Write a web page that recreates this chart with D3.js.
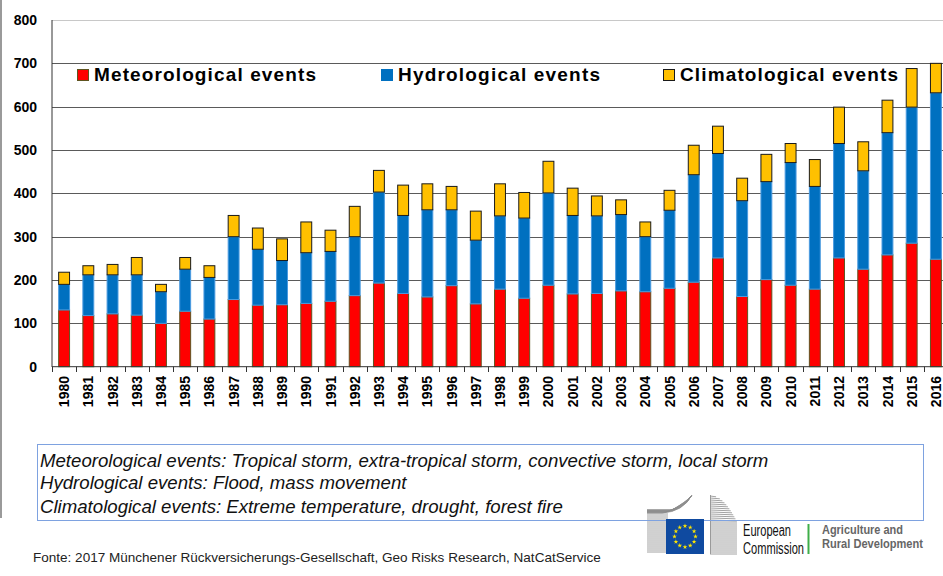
<!DOCTYPE html>
<html>
<head>
<meta charset="utf-8">
<script src="https://cdn.jsdelivr.net/npm/d3@7"></script>
<style>
  body { margin: 0; background: #fff; }
  svg { display: block; font-family: "Liberation Sans", Arial, sans-serif; }
</style>
</head>
<body>
<div id="chart"></div>
<script>
const years = d3.range(1980, 2017).map(String);
const series_names = ["Meteorological events", "Hydrological events", "Climatological events"];
const meteorological = [131,118,122,119,100,128,110,155,142,143,146,151,164,193,169,161,187,145,179,158,188,168,169,175,173,181,195,251,162,201,188,179,251,225,258,285,248];
const hydrological = [59,94,90,93,73,97,96,145,129,102,117,115,136,210,180,201,175,147,169,185,213,181,179,176,127,180,248,241,221,226,283,237,264,227,282,314,384];
const climatological = [28,21,24,40,17,27,27,49,49,50,71,49,70,50,70,60,54,67,74,59,73,63,46,34,34,46,68,63,52,63,44,62,84,67,75,89,68];
const y_ticks = [0,100,200,300,400,500,600,700,800];
const notes = [
    "Meteorological events: Tropical storm, extra-tropical storm, convective storm, local storm",
    "Hydrological events: Flood, mass movement",
    "Climatological events: Extreme temperature, drought, forest fire"
];
const source_text = "Fonte: 2017 Münchener Rückversicherungs-Gesellschaft, Geo Risks Research, NatCatService";

function draw_chart() {
    const width = 943, height = 576;
    const svg = d3.select("#chart").append("svg")
        .attr("width", width)
        .attr("height", height);

    svg.append("rect").attr("width", width).attr("height", height).attr("fill", "#fff");

    // grey frame line on the left side
    svg.append("line")
        .attr("x1", 1).attr("x2", 1).attr("y1", 0).attr("y2", 518)
        .attr("stroke", "#9a9a9a").attr("stroke-width", 2);

    const table = years.map((year, i) => ({
        year,
        met: meteorological[i],
        hyd: hydrological[i],
        clim: climatological[i]
    }));
    const keys = ["met", "hyd", "clim"];
    const fills = {met: "#ff0000", hyd: "#0070c0", clim: "#ffc000"};
    const strokes = {met: "#5e5420", hyd: "#4b9be0", clim: "#1a1a1a"};

    const pad = 0.55;
    const scale_x = d3.scaleBand()
        .domain(years)
        .range([52, 948])
        .paddingInner(pad)
        .paddingOuter(pad / 2);

    const scale_y = d3.scaleLinear()
        .domain([0, 800])
        .range([366.7, 20]);

    // grid lines
    svg.append("g").selectAll("line")
        .data(y_ticks.filter(d => d > 0))
        .join("line")
        .attr("x1", 52).attr("x2", width)
        .attr("y1", d => Math.round(scale_y(d)) + 0.5)
        .attr("y2", d => Math.round(scale_y(d)) + 0.5)
        .attr("stroke", d => d === 800 ? "#c8c8c8" : "#5a5a5a")
        .attr("stroke-width", 1);

    // y labels
    svg.append("g").selectAll("text")
        .data(y_ticks)
        .join("text")
        .attr("x", 37)
        .attr("y", d => scale_y(d))
        .attr("dy", "0.35em")
        .attr("text-anchor", "end")
        .style("font-size", "14px")
        .style("font-weight", "bold")
        .attr("fill", "#000")
        .text(d => d);

    // stacked bars
    const stacked = d3.stack().keys(keys)(table);
    svg.append("g").selectAll("g")
        .data(stacked)
        .join("g")
        .attr("fill", d => fills[d.key])
        .attr("stroke", d => strokes[d.key])
        .attr("stroke-width", 1)
        .selectAll("rect")
        .data(d => d)
        .join("rect")
        .attr("x", d => scale_x(d.data.year))
        .attr("y", d => scale_y(d[1]))
        .attr("width", scale_x.bandwidth())
        .attr("height", d => scale_y(d[0]) - scale_y(d[1]));

    // axes lines
    svg.append("line")
        .attr("x1", 52).attr("x2", 52).attr("y1", 20).attr("y2", 367)
        .attr("stroke", "#333").attr("stroke-width", 1);

    const xAxis = svg.append("g")
        .attr("transform", "translate(0, 366.7)")
        .call(d3.axisBottom(scale_x).tickSize(0).tickFormat(""));
    xAxis.select(".domain").attr("stroke", "#333").attr("d", "M52,0H943");

    svg.append("g").selectAll("line")
        .data(d3.range(years.length + 1))
        .join("line")
        .attr("x1", i => Math.round(52 + i * scale_x.step()) + 0.5)
        .attr("x2", i => Math.round(52 + i * scale_x.step()) + 0.5)
        .attr("y1", 366.7).attr("y2", 372)
        .attr("stroke", "#333");

    svg.append("g").selectAll("text")
        .data(years)
        .join("text")
        .attr("transform", d => `translate(${scale_x(d) + scale_x.bandwidth() / 2}, 376) rotate(-90)`)
        .attr("dy", "0.36em")
        .attr("text-anchor", "end")
        .style("font-size", "14px")
        .style("font-weight", "bold")
        .text(d => d);

    // legend
    const legend_x = [77, 381, 663];
    const legend_w = [222, 202, 218];
    const legend = svg.append("g");
    keys.forEach((key, i) => {
        legend.append("rect")
            .attr("x", legend_x[i] + 0.5).attr("y", 69.5)
            .attr("width", 11).attr("height", 11)
            .attr("fill", fills[key])
            .attr("stroke", key === "hyd" ? fills[key] : strokes[key]);
        legend.append("text")
            .attr("x", legend_x[i] + 17)
            .attr("y", 80.5)
            .attr("textLength", legend_w[i])
            .attr("lengthAdjust", "spacing")
            .style("font-size", "19px")
            .style("font-weight", "bold")
            .text(series_names[i]);
    });

    // notes box
    svg.append("rect")
        .attr("x", 37.5).attr("y", 444.5)
        .attr("width", 886).attr("height", 76)
        .attr("fill", "#fff")
        .attr("stroke", "#7ea2e0").attr("stroke-width", 1);

    const note_lines = svg.append("g").selectAll("text")
        .data(notes)
        .join("text")
        .attr("x", 40)
        .attr("y", (d, i) => [466.5, 488.5, 512.5][i])
        .style("font-size", "16px")
        .style("font-style", "italic")
        .attr("fill", "#111")
        .text(d => d);
    const first_len = note_lines.node().getComputedTextLength();
    note_lines.style("font-size", (16 * 729 / first_len).toFixed(2) + "px");

    const src = svg.append("text")
        .attr("x", 33).attr("y", 562)
        .style("font-size", "13px")
        .attr("fill", "#222")
        .text(source_text);
    const src_len = src.node().getComputedTextLength();
    src.style("font-size", (13 * 568 / src_len).toFixed(2) + "px");

    draw_logo(svg);
}

function draw_logo(svg) {
    const logo = svg.append("g");
    const grey = "#8c8c8c";
    // left wing
    for (let k = 0; k < 20; k++) {
        const y = 514 + k * 2;
        logo.append("line")
            .attr("x1", 647).attr("x2", 668).attr("y1", y).attr("y2", y)
            .attr("stroke", grey).attr("stroke-width", 0.8);
    }
    for (let k = 0; k < 12; k++) {
        logo.append("path")
            .attr("d", `M647,${513 - k * 0.3} L${662 + k},${513 - k * 0.3} Q${683 + k * 0.3},${512 - k * 1.0} ${692 - k * 0.15},${495 + k * 0.2}`)
            .attr("fill", "none")
            .attr("stroke", grey).attr("stroke-width", 0.7);
    }
    // right wing
    for (let k = 0; k < 30; k++) {
        const y = 496 + k * 2;
        const t = Math.min(1, (y - 495) / 26);
        const x_end = 711 + 26 * Math.sqrt(t);
        logo.append("line")
            .attr("x1", 710).attr("x2", x_end).attr("y1", y).attr("y2", y + (t < 1 ? 0.8 : 0))
            .attr("stroke", grey).attr("stroke-width", 0.8);
    }
    logo.append("line")
        .attr("x1", 710.5).attr("x2", 710.5).attr("y1", 495).attr("y2", 554)
        .attr("stroke", grey).attr("stroke-width", 0.8);

    // notes box border crosses the building
    logo.append("line")
        .attr("x1", 640).attr("x2", 745).attr("y1", 520.5).attr("y2", 520.5)
        .attr("stroke", "#7ea2e0");

    logo.append("rect")
        .attr("x", 666).attr("y", 519).attr("width", 38).attr("height", 35)
        .attr("fill", "#0f4aa0");
    const star = d3.symbol(d3.symbolStar).size(7);
    d3.range(12).forEach(i => {
        const a = i * Math.PI / 6;
        logo.append("path")
            .attr("d", star())
            .attr("transform", `translate(${685 + 10.5 * Math.sin(a)}, ${536.5 - 10.5 * Math.cos(a)})`)
            .attr("fill", "#ffe600");
    });

    logo.append("text")
        .attr("x", 743).attr("y", 536)
        .attr("textLength", 48).attr("lengthAdjust", "spacingAndGlyphs")
        .style("font-size", "16px").attr("fill", "#111")
        .text("European");
    logo.append("text")
        .attr("x", 743).attr("y", 553.5)
        .attr("textLength", 61).attr("lengthAdjust", "spacingAndGlyphs")
        .style("font-size", "16px").attr("fill", "#111")
        .text("Commission");
    logo.append("line")
        .attr("x1", 808.5).attr("x2", 808.5).attr("y1", 524).attr("y2", 554)
        .attr("stroke", "#3fae49").attr("stroke-width", 2);
    logo.append("text")
        .attr("x", 822).attr("y", 534)
        .attr("textLength", 81).attr("lengthAdjust", "spacingAndGlyphs")
        .style("font-size", "13px").style("font-weight", "bold").attr("fill", "#666")
        .text("Agriculture and");
    logo.append("text")
        .attr("x", 822).attr("y", 547.5)
        .attr("textLength", 101).attr("lengthAdjust", "spacingAndGlyphs")
        .style("font-size", "13px").style("font-weight", "bold").attr("fill", "#666")
        .text("Rural Development");
}

draw_chart();
</script>
</body>
</html>
